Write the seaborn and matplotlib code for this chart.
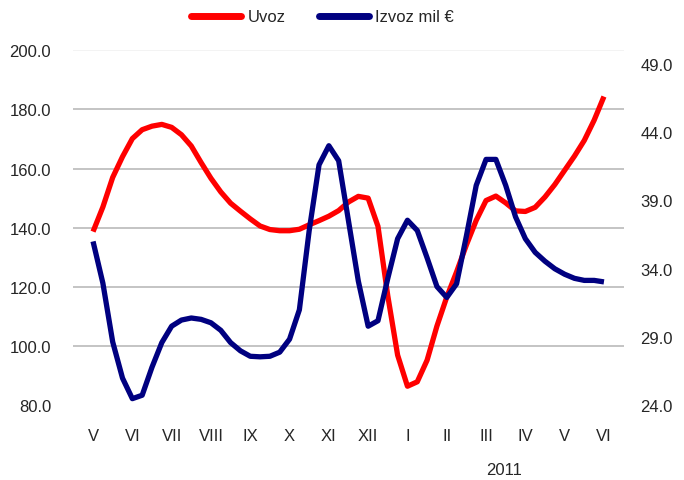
import numpy as np
import pandas as pd
import matplotlib
matplotlib.use("Agg")
import matplotlib.pyplot as plt
import seaborn as sns
from matplotlib.lines import Line2D

# Tjedni podaci: svibanj 2010 - lipanj 2011 (4 točke po mjesecu)
mjeseci = ['V', 'VI', 'VII', 'VIII', 'IX', 'X', 'XI', 'XII', 'I', 'II', 'III', 'IV', 'V', 'VI']
uvoz = [138.7, 147.0, 157.0, 164.0, 170.1, 173.1, 174.3, 174.9, 173.9, 171.4,
        167.6, 162.0, 156.7, 152.1, 148.3, 145.6, 143.0, 140.6, 139.4, 139.0,
        139.0, 139.5, 141.0, 142.4, 143.9, 145.8, 148.7, 150.6, 150.0, 140.5,
        117.0, 97.0, 86.5, 88.0, 95.3, 106.8, 116.6, 125.1, 134.2, 142.5,
        149.2, 150.7, 148.4, 145.7, 145.5, 146.9, 150.4, 154.6, 159.4, 164.2,
        169.5, 176.3, 184.3]
izvoz = [36.0, 32.95, 28.65, 26.0, 24.5, 24.75, 26.8, 28.6, 29.8, 30.25,
         30.4, 30.3, 30.05, 29.5, 28.6, 28.0, 27.6, 27.56, 27.6, 27.9,
         28.85, 31.0, 36.8, 41.6, 43.0, 41.9, 37.5, 33.1, 29.8, 30.2,
         33.3, 36.2, 37.55, 36.8, 34.8, 32.7, 31.9, 32.9, 36.4, 40.1,
         42.0, 42.0, 40.1, 37.8, 36.2, 35.2, 34.55, 34.0, 33.6, 33.3,
         33.15, 33.15, 33.04]
tjedana_po_mjesecu = 4
godina = '2011'

df = pd.DataFrame({'uvoz': uvoz, 'izvoz': izvoz})
df['mjesec'] = np.arange(len(df)) / tjedana_po_mjesecu

sns.set_style("white")
plt.rcParams['font.family'] = ['Liberation Sans', 'DejaVu Sans']
fs = 12

fig = plt.figure(figsize=(6.84, 4.81), dpi=100)
ax = fig.add_axes([0.1073, 0.1549, 0.8044, 0.739])
ax2 = ax.twinx()

sns.lineplot(data=df, x='mjesec', y='uvoz', ax=ax, color='#FF0000', lw=3.8,
             legend=False, solid_joinstyle='round', solid_capstyle='butt')
sns.lineplot(data=df, x='mjesec', y='izvoz', ax=ax2, color='#000080', lw=3.8,
             legend=False, solid_joinstyle='round', solid_capstyle='butt')

ax.set_xlim(-0.5, len(mjeseci) - 0.5)
ax.set_ylim(80, 200)
ax.set_yticks(np.arange(80, 201, 20))
ax.set_yticklabels([f'{v:.1f}' for v in np.arange(80, 201, 20)], fontsize=fs)
ax.set_xticks(np.arange(len(mjeseci)))
ax.set_xticklabels(mjeseci, fontsize=fs)
ax.yaxis.grid(True, color='#BFBFBF', lw=1.3)
ax.xaxis.grid(False)
gl = ax.get_ygridlines()
gl[0].set_visible(False)
gl[-1].set_color('#F2F2F2')
ax.tick_params(axis='y', length=0, pad=16)
ax.tick_params(axis='x', length=0, pad=16)
ax.set_xlabel('')
ax.set_ylabel('')

ax2.set_ylim(24, 50)
ax2.set_yticks(np.arange(24, 50, 5))
ax2.set_yticklabels([f'{v:.1f}' for v in np.arange(24, 50, 5)], fontsize=fs)
ax2.tick_params(axis='y', length=0, pad=12)
ax2.grid(False)
ax2.set_ylabel('')

for a in (ax, ax2):
    for s in a.spines.values():
        s.set_visible(False)

ax.text(10.45, -0.18, godina, transform=ax.get_xaxis_transform(),
        ha='center', va='center', fontsize=fs)

handles = [Line2D([], [], color='#FF0000', lw=5), Line2D([], [], color='#000080', lw=5)]
fig.legend(handles, ['Uvoz', 'Izvoz mil €'], loc='center', bbox_to_anchor=(0.4715, 0.9626),
           ncol=2, frameon=False, fontsize=fs, handlelength=3.0, handletextpad=0.4,
           columnspacing=2.0, borderpad=0, borderaxespad=0)

fig.savefig('out.png', dpi=100)
